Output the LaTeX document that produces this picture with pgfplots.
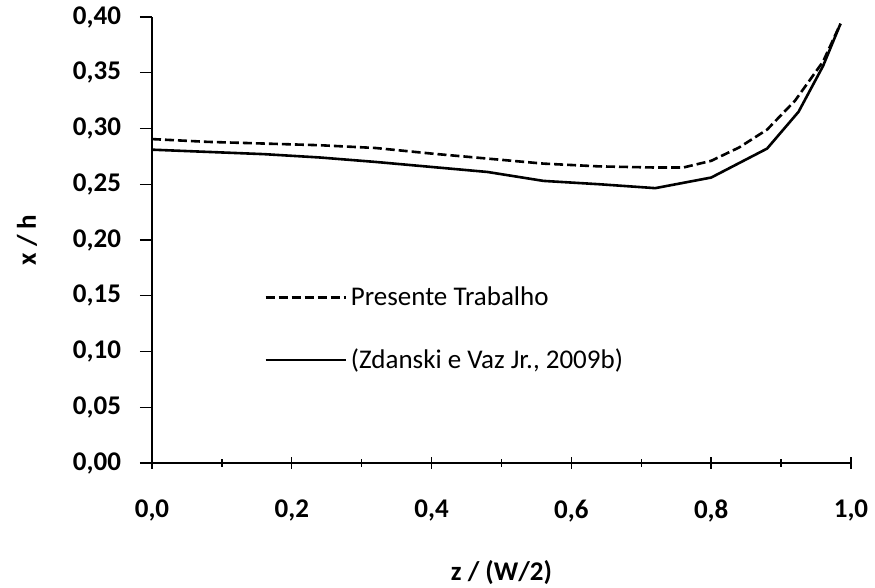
\documentclass[border=0pt]{standalone}
\usepackage{fontspec}
\setmainfont{Carlito}
\usepackage{pgfplots}
\pgfplotsset{compat=1.18}
\pgfplotstableread{
x y
0.000 0.2905
0.080 0.2880
0.160 0.2865
0.240 0.2850
0.320 0.2825
0.400 0.2775
0.480 0.2730
0.560 0.2685
0.640 0.2660
0.720 0.2650
0.760 0.2650
0.800 0.2710
0.840 0.2830
0.880 0.2990
0.920 0.3250
0.960 0.3600
0.985 0.3940
}\presente
\pgfplotstableread{
x y
0.000 0.2810
0.080 0.2790
0.160 0.2770
0.240 0.2740
0.320 0.2700
0.400 0.2655
0.480 0.2610
0.560 0.2530
0.640 0.2500
0.720 0.2465
0.800 0.2560
0.880 0.2820
0.925 0.3150
0.960 0.3560
0.985 0.3940
}\zdanski
\begin{document}
\begin{tikzpicture}
\begin{axis}[
  name=ax,
  scale only axis,
  width=349.5pt, height=223pt,
  xmin=0, xmax=1, ymin=0, ymax=0.40,
  axis lines*=left,
  axis line style={line width=0.7pt},
  xtick={0,0.2,...,1.0},
  minor xtick={0.1,0.3,0.5,0.7,0.9},
  ytick={0,0.05,...,0.401},
  xtick pos=bottom, ytick pos=left,
  major tick length=6pt,
  minor tick length=4pt,
  every tick/.style={line width=0.7pt, black},
  xtick align=center,
  ytick align=outside,
  /pgf/number format/assume math mode=true,
  /pgf/number format/use comma,
  /pgf/number format/fixed,
  /pgf/number format/fixed zerofill,
  xticklabel style={/pgf/number format/precision=1, font=\fontsize{13.5}{16}\selectfont\bfseries, yshift=-12pt},
  yticklabel style={/pgf/number format/precision=2, font=\fontsize{13.5}{16}\selectfont\bfseries, xshift=-6pt},
  xlabel={z / (W/2)},
  ylabel={x / h},
  xlabel style={font=\fontsize{13.5}{16}\selectfont\bfseries, yshift=-12pt},
  ylabel style={font=\fontsize{13.5}{16}\selectfont\bfseries, yshift=11pt},
  legend style={draw=none, fill=none, at={(0.16,0.405)}, anchor=north west,
    font=\fontsize{13.5}{16}\selectfont, row sep=16pt, inner sep=0pt},
  legend cell align=left,
  legend image code/.code={\draw[#1] (0pt,0pt) -- (40pt,0pt);},
  clip=false,
]
\addplot[black, line width=1.3pt, dash pattern=on 4.5pt off 2pt] table[x=x,y=y] {\presente};
\addlegendentry{Presente Trabalho}
\addplot[black, line width=1.3pt] table[x=x,y=y] {\zdanski};
\addlegendentry{(Zdanski e Vaz Jr., 2009b)}
\end{axis}
\pgfresetboundingbox
\path (ax.south west) ++(-76pt,-62.5pt) rectangle ++(437.5pt,294pt);
\end{tikzpicture}
\end{document}
